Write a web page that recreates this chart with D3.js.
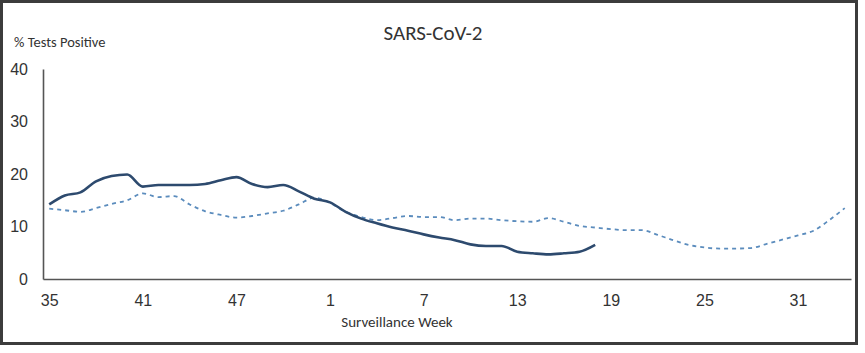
<!DOCTYPE html>
<html>
<head>
<meta charset="utf-8">
<script src="https://cdn.jsdelivr.net/npm/d3@7"></script>
<style>
	body { margin: 0; background: #fff; }
	svg { font-family: Carlito, Lato, "Open Sans", sans-serif; }
</style>
</head>
<body>
<svg id="chart" width="865" height="353"></svg>
<script>
// surveillance weeks, 35 .. 52 then 1 .. 34
var weeks = d3.range(35, 53).concat(d3.range(1, 35));
var weekTicks = [35, 41, 47, 1, 7, 13, 19, 25, 31];
var yTicks = [0, 10, 20, 30, 40];

// current season (solid), weeks 35 .. 18
var current = [14.2, 15.9, 16.5, 18.6, 19.6, 19.9, 17.6, 17.9, 17.9, 17.9, 18.1, 18.8, 19.4, 18.1, 17.5, 17.9,
	16.7, 15.3, 14.6, 12.8, 11.5, 10.6, 9.8, 9.2, 8.5, 7.9, 7.4, 6.6, 6.3, 6.3, 5.2, 4.9,
	4.7, 4.9, 5.2, 6.5];
// previous season (dashed), weeks 35 .. 34
var previous = [13.4, 13.1, 12.8, 13.5, 14.3, 15.0, 16.3, 15.6, 15.8, 14.2, 12.9, 12.2, 11.7, 12.0, 12.5, 13.0,
	14.2, 15.5, 14.5, 12.8, 11.8, 11.2, 11.6, 12.0, 11.8, 11.8, 11.2, 11.5, 11.5, 11.2, 11.0, 10.9,
	11.6, 10.9, 10.1, 9.8, 9.5, 9.3, 9.3, 8.4, 7.4, 6.5, 6.0, 5.8, 5.8, 5.9, 6.7, 7.5,
	8.3, 9.2, 11.2, 13.5];

var svg = d3.select("#chart");

// outer frame
svg.append("rect")
	.attr("x", 1.5).attr("y", 1.5)
	.attr("width", 855).attr("height", 342)
	.attr("fill", "#fff")
	.attr("stroke", "#3c3c3c")
	.attr("stroke-width", 3);

var xScale = d3.scalePoint().domain(weeks).range([43, 851]).padding(0.4);
var yScale = d3.scaleLinear().domain([0, 40]).range([279, 69]);

// y axis
var yAxis = svg.append("g")
	.attr("transform", "translate(43,0)")
	.call(d3.axisLeft(yScale).tickValues(yTicks).tickSize(0).tickPadding(15));
yAxis.select(".domain").attr("stroke", "#555").attr("stroke-width", 1.6);
yAxis.selectAll("text").attr("font-size", 16).attr("fill", "#333").attr("font-family", null);

// x axis
var xAxis = svg.append("g")
	.attr("transform", "translate(0,279)")
	.call(d3.axisBottom(xScale).tickValues(weekTicks).tickSize(0).tickPadding(16));
xAxis.select(".domain").attr("stroke", "#555").attr("stroke-width", 1.6);
xAxis.selectAll("text").attr("font-size", 16).attr("fill", "#333").attr("font-family", null);

var line = d3.line()
	.x(function(d, i) { return xScale(weeks[i]); })
	.y(function(d) { return yScale(d); })
	.curve(d3.curveMonotoneX);

svg.append("path")
	.datum(previous)
	.attr("d", line)
	.attr("fill", "none")
	.attr("stroke", "#5b8cbd")
	.attr("stroke-width", 1.8)
	.attr("stroke-dasharray", "4,4");

svg.append("path")
	.datum(current)
	.attr("d", line)
	.attr("fill", "none")
	.attr("stroke", "#2d4a6e")
	.attr("stroke-width", 2.6);

// texts
svg.append("text")
	.attr("x", 433).attr("y", 40)
	.attr("text-anchor", "middle")
	.attr("font-size", 21)
	.attr("fill", "#333")
	.text("SARS-CoV-2");

svg.append("text")
	.attr("x", 14).attr("y", 47)
	.attr("font-size", 14.5)
	.attr("fill", "#333")
	.text("% Tests Positive");

svg.append("text")
	.attr("x", 397).attr("y", 327)
	.attr("text-anchor", "middle")
	.attr("font-size", 15)
	.attr("fill", "#333")
	.text("Surveillance Week");
</script>
</body>
</html>
